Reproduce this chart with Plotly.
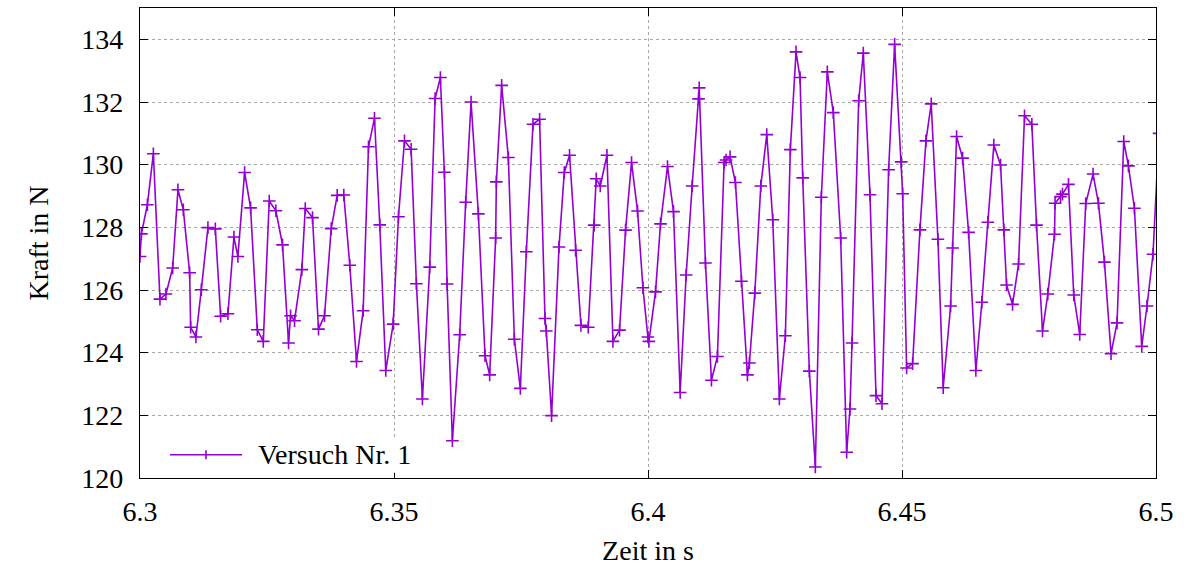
import plotly.graph_objects as go

# Data
zeit_s = [
    6.30000, 6.30027, 6.30145, 6.30263, 6.30393, 6.30511, 6.30643, 6.30747, 6.30853, 6.30977,
    6.30997, 6.31101, 6.31207, 6.31337, 6.31483, 6.31587, 6.31731, 6.31849, 6.31927, 6.32059,
    6.32177, 6.32309, 6.32427, 6.32544, 6.32675, 6.32806, 6.32924, 6.32964, 6.33042, 6.33186,
    6.33253, 6.33396, 6.33514, 6.33632, 6.33764, 6.33882, 6.34012, 6.34130, 6.34262, 6.34393,
    6.34498, 6.34616, 6.34720, 6.34838, 6.34983, 6.35088, 6.35206, 6.35337, 6.35441, 6.35559,
    6.35703, 6.35809, 6.35913, 6.35992, 6.36045, 6.36149, 6.36293, 6.36411, 6.36517, 6.36661,
    6.36792, 6.36883, 6.37001, 6.37015, 6.37119, 6.37251, 6.37369, 6.37487, 6.37605, 6.37736,
    6.37866, 6.37972, 6.37998, 6.38102, 6.38248, 6.38352, 6.38456, 6.38574, 6.38680, 6.38824,
    6.38942, 6.38981, 6.39060, 6.39192, 6.39310, 6.39440, 6.39558, 6.39676, 6.39794, 6.39900,
    6.39998, 6.40018, 6.40148, 6.40246, 6.40384, 6.40502, 6.40633, 6.40751, 6.40869, 6.40995,
    6.41008, 6.41131, 6.41249, 6.41367, 6.41498, 6.41537, 6.41616, 6.41721, 6.41839, 6.41957,
    6.41996, 6.42102, 6.42220, 6.42338, 6.42456, 6.42586, 6.42704, 6.42802, 6.42914, 6.42993,
    6.43046, 6.43176, 6.43294, 6.43412, 6.43530, 6.43648, 6.43793, 6.43911, 6.43976, 6.44016,
    6.44147, 6.44238, 6.44370, 6.44488, 6.44606, 6.44737, 6.44855, 6.44985, 6.45013, 6.45091,
    6.45209, 6.45353, 6.45471, 6.45575, 6.45707, 6.45811, 6.45957, 6.45996, 6.46075, 6.46193,
    6.46311, 6.46454, 6.46572, 6.46690, 6.46808, 6.46940, 6.47005, 6.47058, 6.47176, 6.47294,
    6.47412, 6.47556, 6.47648, 6.47766, 6.47870, 6.48002, 6.48014, 6.48120, 6.48159, 6.48277,
    6.48381, 6.48499, 6.48617, 6.48761, 6.48867, 6.48985, 6.49115, 6.49233, 6.49365, 6.49457,
    6.49575, 6.49719, 6.49823, 6.49941, 6.50059,
]

kraft_n = [
    127.07, 127.79, 128.72, 130.35, 125.71, 125.87, 126.70, 129.20, 128.56, 126.55,
    124.81, 124.50, 126.01, 127.99, 127.95, 125.16, 125.24, 127.69, 127.07, 129.75,
    128.62, 124.73, 124.36, 128.84, 128.53, 127.44, 124.31, 125.18, 125.02, 126.65,
    128.60, 128.31, 124.75, 125.18, 127.96, 129.02, 129.03, 126.79, 123.72, 125.34,
    130.57, 131.48, 128.08, 123.43, 124.91, 128.34, 130.76, 130.49, 126.20, 122.52,
    126.73, 132.11, 132.78, 129.76, 126.19, 121.19, 124.57, 128.80, 132.00, 128.43,
    123.90, 123.29, 127.66, 129.45, 132.53, 130.23, 124.43, 122.86, 127.22, 131.29,
    131.45, 125.09, 124.69, 121.99, 127.37, 129.75, 130.30, 127.27, 124.87, 124.81,
    128.07, 129.55, 129.32, 130.30, 124.36, 124.72, 127.91, 130.07, 128.52, 126.07,
    124.50, 124.36, 125.94, 128.11, 129.94, 128.50, 122.73, 126.48, 129.32, 132.10,
    132.45, 126.86, 123.12, 123.88, 130.07, 130.15, 130.25, 129.43, 126.28, 123.29,
    123.67, 125.90, 129.32, 130.96, 128.24, 122.52, 124.54, 130.48, 133.60, 132.78,
    129.58, 123.41, 120.35, 128.96, 132.96, 131.66, 127.66, 120.82, 122.20, 124.31,
    132.04, 133.56, 129.04, 122.63, 122.37, 129.84, 133.84, 130.09, 129.07, 123.51,
    123.65, 127.92, 130.76, 131.94, 127.62, 122.88, 125.49, 127.34, 130.90, 130.21,
    127.84, 123.43, 125.61, 128.16, 130.63, 129.99, 127.92, 126.16, 125.54, 126.83,
    131.56, 131.29, 128.07, 124.69, 125.87, 127.78, 128.77, 128.98, 129.06, 129.37,
    125.84, 124.58, 128.76, 129.70, 128.77, 126.89, 123.97, 124.95, 130.74, 129.96,
    128.61, 124.20, 125.49, 127.14, 131.00,
]

series_name = "Versuch Nr. 1"
x_title = "Zeit in s"
y_title = "Kraft in N"
x_tick_vals = [6.3, 6.35, 6.4, 6.45, 6.5]
x_tick_text = ["6.3", "6.35", "6.4", "6.45", "6.5"]
y_tick_vals = [120, 122, 124, 126, 128, 130, 132, 134]
y_tick_text = ["120", "122", "124", "126", "128", "130", "132", "134"]

FONT = "Liberation Serif"
COLOR = "#9400D3"
TXT = dict(family=FONT, size=28, color="black")

fig = go.Figure()
fig.add_trace(go.Scatter(
    x=zeit_s, y=kraft_n, mode="lines+markers", name=series_name, showlegend=False,
    line=dict(color=COLOR, width=1.6),
    marker=dict(symbol="cross-thin", size=9, line=dict(color=COLOR, width=1.6), color=COLOR),
))

axis_common = dict(
    showline=True, linecolor="black", linewidth=1.2, mirror="allticks",
    ticks="inside", ticklen=8, tickcolor="black", tickwidth=1,
    showgrid=True, gridcolor="#a8a8a8", griddash="dot", gridwidth=1,
    zeroline=False, tickfont=TXT,
)

# pixel helpers for paper coordinates (plot area 140..1156 x 8..478.3)
L = 140.0
W = 1016.0
T = 8.0
H = 470.3
def px(xp):
    return (xp - L) / W
def py(yp):
    return (T + H - yp) / H

# Key (gnuplot style): white box, sample line with a cross, label
key_y = 455
shapes = [
    dict(type="rect", xref="paper", yref="paper", x0=px(160), x1=px(425), y0=py(473), y1=py(438),
         fillcolor="white", line=dict(width=0), layer="above"),
    dict(type="line", xref="paper", yref="paper", x0=px(170), x1=px(242), y0=py(key_y), y1=py(key_y),
         line=dict(color=COLOR, width=1.6), layer="above"),
    dict(type="line", xref="paper", yref="paper", x0=px(206), x1=px(206), y0=py(key_y - 4.5), y1=py(key_y + 4.5),
         line=dict(color=COLOR, width=1.6), layer="above"),
]
annotations = [
    dict(text=series_name, xref="paper", yref="paper", x=px(256), y=py(key_y),
         xanchor="left", yanchor="middle", showarrow=False, font=TXT),
]

fig.update_layout(
    template="none",
    width=1186, height=568,
    margin=dict(l=140, r=30, t=8, b=90),
    paper_bgcolor="white", plot_bgcolor="white",
    font=TXT,
    xaxis=dict(range=[6.3, 6.5], tickvals=x_tick_vals, ticktext=x_tick_text,
               title=dict(text=x_title, font=TXT, standoff=14),
               ticklabelstandoff=8, **axis_common),
    yaxis=dict(range=[120, 135], tickvals=y_tick_vals, ticktext=y_tick_text,
               title=dict(text=y_title, font=TXT, standoff=24),
               ticklabelstandoff=10, **axis_common),
    shapes=shapes,
    annotations=annotations,
    showlegend=False,
)

fig.write_html("out.html")
